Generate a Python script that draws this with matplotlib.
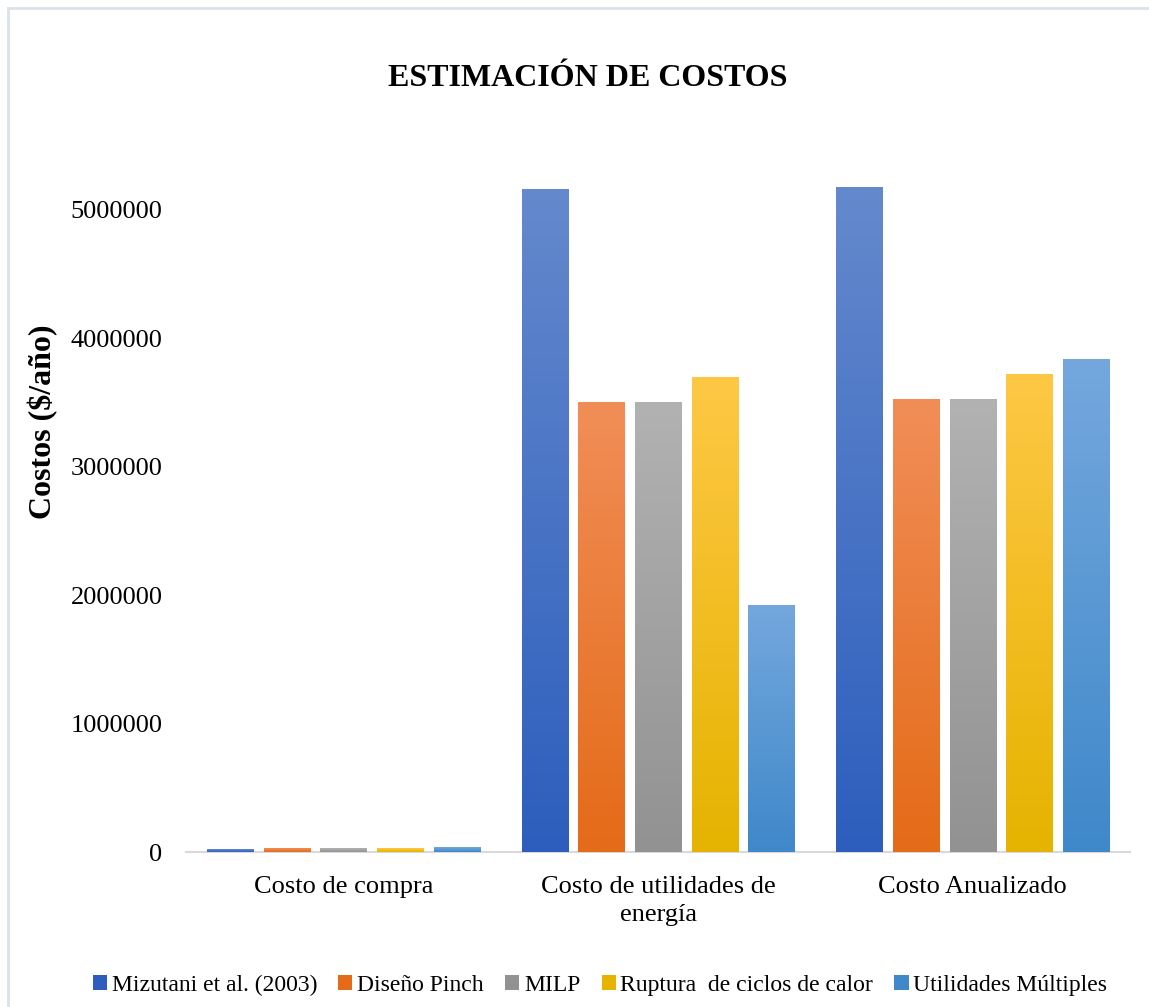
import numpy as np
import matplotlib
matplotlib.use("Agg")
import matplotlib.pyplot as plt
from matplotlib.colors import LinearSegmentedColormap
from matplotlib.patches import Patch
from matplotlib.lines import Line2D

plt.rcParams['font.family'] = ['Liberation Serif', 'DejaVu Serif']

categories = ["Costo de compra", "Costo de utilidades de\nenergía", "Costo Anualizado"]
series_names = ["Mizutani et al. (2003)", "Diseño Pinch", "MILP",
                "Ruptura  de ciclos de calor", "Utilidades Múltiples"]
mizutani = [20000, 5165000, 5180000]
pinch = [30000, 3505000, 3528000]
milp = [28000, 3505000, 3528000]
ruptura = [28000, 3700000, 3723000]
multiples = [38000, 1925000, 3840000]
series_values = [mizutani, pinch, milp, ruptura, multiples]
yticks = [0, 1000000, 2000000, 3000000, 4000000, 5000000]

# (top, bottom) colours of each series' vertical gradient
grad_colors = [("#6489cd", "#2d5ebd"),
               ("#f18e58", "#e46b18"),
               ("#b2b2b2", "#929292"),
               ("#fec845", "#e5b300"),
               ("#74a8dd", "#3f88ca")]

fig = plt.figure(figsize=(11.49, 10.07), dpi=100)
ax = fig.add_axes([0.162, 0.1539, 0.8215, 0.6886])

x = np.arange(len(categories))
step = 0.18
width = 0.147
offsets = (np.arange(len(series_names)) - 2) * step

ylim_top = 5400000
for i, vals in enumerate(series_values):
    top_c, bot_c = grad_colors[i]
    cmap = LinearSegmentedColormap.from_list(f"g{i}", [bot_c, top_c])
    bars = ax.bar(x + offsets[i], vals, width=width, color=bot_c,
                  edgecolor="none", zorder=2)
    for b in bars:
        x0, y0 = b.get_x(), b.get_y()
        w, h = b.get_width(), b.get_height()
        grad = np.linspace(0, 1, 256).reshape(-1, 1)
        im = ax.imshow(grad, cmap=cmap, origin="lower", aspect="auto",
                       extent=[x0, x0 + w, y0, y0 + h], zorder=3,
                       interpolation="bilinear")
        im.set_clip_path(b)

ax.set_xlim(-0.5, 2.5)
ax.set_ylim(0, ylim_top)
ax.set_yticks(yticks)
ax.set_yticklabels([str(v) for v in yticks], fontsize=19)
ax.set_xticks(x)
ax.set_xticklabels(categories, fontsize=19, linespacing=1.35)
ax.tick_params(axis="both", length=0)
ax.tick_params(axis="y", pad=17)
ax.tick_params(axis="x", pad=17)
for s in ["top", "right", "left"]:
    ax.spines[s].set_visible(False)
ax.spines["bottom"].set_color("#d9d9d9")
ax.spines["bottom"].set_linewidth(1.5)
ax.spines["bottom"].set_zorder(1)

ax.set_ylabel("Costos ($/año)", fontsize=23, fontweight="bold")
ax.yaxis.set_label_coords(-0.135, 0.62)

fig.text(588 / 1149, 1 - 78 / 1007, "ESTIMACIÓN DE COSTOS", ha="center",
         va="center", fontsize=23, fontweight="bold")

handles = [Patch(facecolor=grad_colors[i][1], edgecolor="none")
           for i in range(len(series_names))]
fig.legend(handles, series_names, loc="center",
           bbox_to_anchor=(600 / 1149, 1 - 985 / 1007), ncol=5,
           frameon=False, fontsize=17, handlelength=0.6, handleheight=0.6,
           handletextpad=0.2, columnspacing=0.9)

# light frame around the chart area
fig.add_artist(Line2D([8 / 1149, 1], [1 - 8 / 1007, 1 - 8 / 1007],
                      color="#dde2e8", lw=2, transform=fig.transFigure))
fig.add_artist(Line2D([8 / 1149, 8 / 1149], [0, 1 - 8 / 1007],
                      color="#dde2e8", lw=2, transform=fig.transFigure))

fig.savefig("out.png", dpi=100)
